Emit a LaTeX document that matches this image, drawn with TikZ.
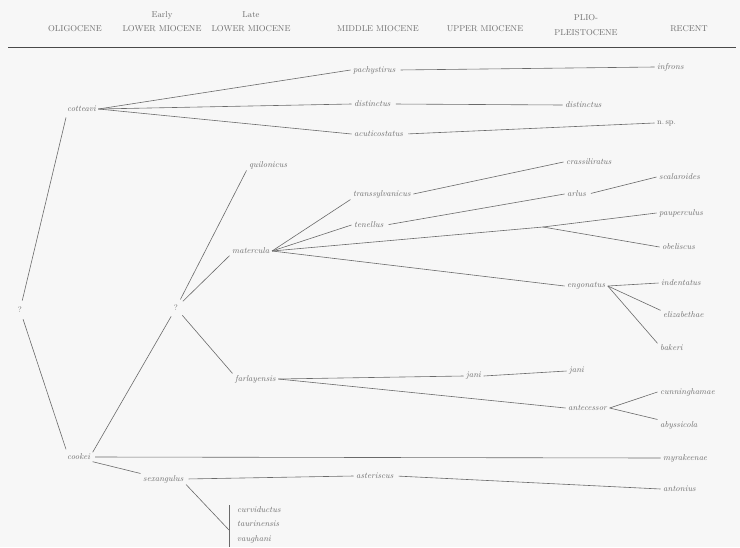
\documentclass[tikz,border=0pt]{standalone}
\usepackage{tikz}
\usetikzlibrary{calc}
\definecolor{bgcol}{HTML}{F7F7F7}
\definecolor{txtcol}{HTML}{6E6E6E}
\definecolor{lncol}{HTML}{6A6A6A}
\definecolor{rulecol}{HTML}{4A4A4A}
\tikzset{
  taxon/.style={anchor=west, inner xsep=2.5pt, inner ysep=1.5pt, text=txtcol, font=\fontsize{8.5}{10}\selectfont\itshape},
  qmark/.style={circle, minimum size=19pt, inner sep=0pt, text=txtcol, font=\fontsize{8}{10}\selectfont},
  period/.style={align=center, text=txtcol, font=\fontsize{8.5}{14.5}\selectfont, inner sep=0pt},
  link/.style={draw=lncol, line width=0.6pt},
  onward/.style={link, shorten <=2.5pt},
}
\begin{document}
\begin{tikzpicture}[x=1pt,y=-1pt]
\fill[bgcol] (0,0) rectangle (740,547);
\useasboundingbox (0,0) rectangle (740,547);
% header
\node[period] (h1) at (75,28.5) {OLIGOCENE};
\node[period] (h2) at (162,21.5) {Early\\LOWER MIOCENE};
\node[period] (h3) at (251,21.5) {Late\\LOWER MIOCENE};
\node[period] (h4) at (378,28.5) {MIDDLE MIOCENE};
\node[period] (h5) at (485,28.5) {UPPER MIOCENE};
\node[period] (h6) at (586,25) {PLIO-\\PLEISTOCENE};
\node[period] (h7) at (689,28.5) {RECENT};
\coordinate (rl) at (8,47);
\coordinate (rr) at (736,47);
\draw[rulecol, line width=1pt] (rl) -- (rr);
% taxa
\node[taxon] (cotteavi) at (64.5,109) {cotteavi};
\node[taxon] (pachystirus) at (350.5,70) {pachystirus};
\node[taxon] (infrons) at (654.5,67) {infrons};
\node[taxon] (distinctusA) at (351.5,104) {distinctus};
\node[taxon] (distinctusB) at (562.5,105) {distinctus};
\node[taxon] (acuticostatus) at (351.5,134) {acuticostatus};
\node[taxon, font=\fontsize{8}{10}\selectfont] (nsp) at (654.5,123) {n.\,sp.};
\node[taxon] (quilonicus) at (246.5,165) {quilonicus};
\node[taxon] (transsylvanicus) at (350.5,194) {transsylvanicus};
\node[taxon] (crassiliratus) at (563.5,162) {crassiliratus};
\node[taxon] (tenellus) at (351.5,225) {tenellus};
\node[taxon] (arlus) at (564.5,194) {arlus};
\node[taxon] (scalaroides) at (656.5,177) {scalaroides};
\node[taxon] (pauperculus) at (656.5,213) {pauperculus};
\node[taxon] (obeliscus) at (659.5,247) {obeliscus};
\node[taxon] (matercula) at (229.5,251) {matercula};
\node[taxon] (engonatus) at (564.5,286) {engonatus};
\node[taxon] (indentatus) at (658.5,283) {indentatus};
\node[taxon] (elizabethae) at (660.5,315) {elizabethae};
\node[taxon] (bakeri) at (657.5,348) {bakeri};
\node[taxon] (farlayensis) at (232.5,379) {farlayensis};
\node[taxon] (janiA) at (463.5,376) {jani};
\node[taxon] (janiB) at (566.5,371) {jani};
\node[taxon] (antecessor) at (565.5,408) {antecessor};
\node[taxon] (cunninghamae) at (657.5,392) {cunninghamae};
\node[taxon] (abyssicola) at (657.5,425) {abyssicola};
\node[taxon] (cookei) at (64.5,457) {cookei};
\node[taxon] (myrakeenae) at (660.5,458) {myrakeenae};
\node[taxon] (sexangulus) at (140.5,479) {sexangulus};
\node[taxon] (asteriscus) at (353.5,476) {asteriscus};
\node[taxon] (antonius) at (660.5,489) {antonius};
\node[taxon] (curviductus) at (234.5,510) {curviductus};
\node[taxon] (taurinensis) at (234.5,524) {taurinensis};
\node[taxon] (vaughani) at (234.5,539) {vaughani};
\node[qmark] (q1) at (20,310) {?};
\node[qmark] (q2) at (176,308) {?};
\coordinate (br) at (543,227);
\coordinate (bartop) at (229,505);
\coordinate (barmid) at (229,530);
\coordinate (barbot) at (229,547);
% connectors
\draw[link] (cotteavi.east) -- (pachystirus.west);
\draw[link] (cotteavi.east) -- (distinctusA.west);
\draw[link] (cotteavi.east) -- (acuticostatus.west);
\draw[onward] (pachystirus.east) -- (infrons.west);
\draw[onward] (distinctusA.east) -- (distinctusB.west);
\draw[onward] (acuticostatus.east) -- (nsp.west);
\draw[link] (q1) -- ($(cotteavi.south west)+(1.5,4)$);
\draw[link] (q1) -- ($(cookei.north west)+(1.5,-3)$);
\draw[link] (q2) -- (quilonicus.south west);
\draw[link] (q2) -- (matercula.south west);
\draw[link] (q2) -- (farlayensis.north west);
\draw[link] (q2) -- (cookei.north east);
\draw[link] (matercula.east) -- (transsylvanicus.south west);
\draw[link] (matercula.east) -- (tenellus.west);
\draw[link] (matercula.east) -- (br);
\draw[link] (matercula.east) -- (engonatus.west);
\draw[link] (br) -- (pauperculus.west);
\draw[link] (br) -- (obeliscus.west);
\draw[link] (transsylvanicus.east) -- (crassiliratus.west);
\draw[onward] (tenellus.east) -- (arlus.west);
\draw[onward] (arlus.east) -- (scalaroides.west);
\draw[link] (engonatus.east) -- (indentatus.west);
\draw[link] (engonatus.east) -- (elizabethae.north west);
\draw[link] (engonatus.east) -- (bakeri.north west);
\draw[link] (farlayensis.east) -- (janiA.west);
\draw[link] (farlayensis.east) -- (antecessor.west);
\draw[link] (janiA.east) -- (janiB.west);
\draw[link] (antecessor.east) -- (cunninghamae.west);
\draw[link] (antecessor.east) -- (abyssicola.north west);
\draw[onward] (cookei.east) -- (myrakeenae.west);
\draw[link] (cookei.south east) -- (sexangulus.north west);
\draw[onward] (sexangulus.east) -- (asteriscus.west);
\draw[onward] (asteriscus.east) -- (antonius.west);
\draw[link] (sexangulus.south east) -- (barmid);
\draw[link] (bartop) -- (barbot);
\end{tikzpicture}
\end{document}
